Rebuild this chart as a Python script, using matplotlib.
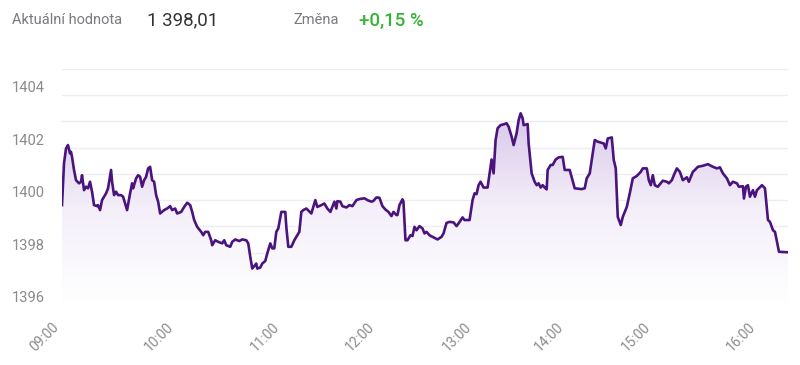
import matplotlib
matplotlib.use("Agg")
import matplotlib.pyplot as plt
import matplotlib.transforms as mtransforms
from matplotlib.colors import LinearSegmentedColormap
import numpy as np

plt.rcParams['font.family'] = ['Roboto', 'DejaVu Sans']

# header
current_label = 'Aktuální hodnota'
current_value = '1 398,01'
change_label = 'Změna'
change_value = '+0,15 %'

# sample index (uneven trading gaps, so the axis is by sample, not by clock)
idx = [0, 2, 4, 6, 8, 9, 10, 12, 14, 17, 19, 20, 22, 24, 26, 28, 30, 32, 35, 36,
       38, 40, 44, 46, 49, 50, 52, 54, 56, 59, 61, 63, 65, 68, 70, 71, 74, 76, 78, 80,
       82, 84, 86, 88, 90, 92, 94, 96, 98, 102, 105, 108, 110, 113, 115, 119, 122, 125, 128, 130,
       132, 135, 139, 141, 143, 146, 149, 150, 153, 156, 160, 162, 164, 168, 170, 173, 177, 180, 184, 186,
       188, 190, 194, 195, 198, 200, 203, 205, 208, 210, 212, 214, 216, 219, 223, 224, 226, 229, 232, 235,
       237, 239, 241, 244, 249, 253, 255, 259, 262, 265, 268, 270, 272, 274, 275, 278, 280, 284, 287, 290,
       294, 297, 302, 305, 309, 311, 314, 317, 320, 323, 326, 329, 331, 334, 335, 337, 340, 341, 343, 345,
       348, 350, 352, 354, 357, 360, 362, 364, 367, 370, 375, 379, 381, 384, 387, 391, 394, 396, 400, 402,
       407, 410, 412, 414, 416, 418, 421, 425, 428, 429, 431, 433, 435, 438, 441, 444, 446, 449, 451, 454,
       456, 458, 460, 461, 465, 466, 469, 472, 474, 476, 478, 480, 482, 484, 485, 488, 490, 493, 496, 500,
       502, 507, 512, 519, 522, 524, 527, 532, 535, 541, 543, 545, 549, 551, 553, 555, 558, 560, 564, 567,
       570, 574, 578, 580, 584, 586, 588, 590, 592, 595, 600, 604, 606, 609, 611, 614, 617, 620, 624, 626,
       630, 632, 635, 640, 645, 650, 654, 657, 660, 664, 667, 670, 674, 676, 680, 681, 683, 685, 687, 690,
       692, 694, 699, 702, 705, 707, 710, 712, 716, 725]

price = [1399.81, 1401.40, 1401.97, 1402.10, 1401.78, 1401.84, 1401.65, 1401.15, 1400.76, 1400.64,
         1400.70, 1400.95, 1400.38, 1400.51, 1400.45, 1400.70, 1400.32, 1399.81, 1399.77, 1399.81,
         1399.62, 1400.00, 1400.26, 1400.45, 1401.15, 1400.70, 1400.19, 1400.32, 1400.19, 1400.19,
         1400.13, 1399.87, 1399.62, 1400.26, 1400.64, 1400.45, 1400.83, 1400.95, 1400.89, 1400.51,
         1400.76, 1400.89, 1401.21, 1401.27, 1400.76, 1400.70, 1400.19, 1399.94, 1399.49, 1399.62,
         1399.68, 1399.77, 1399.62, 1399.68, 1399.49, 1399.55, 1399.74, 1399.90, 1399.81, 1399.55,
         1399.24, 1398.98, 1398.79, 1398.66, 1398.79, 1398.79, 1398.47, 1398.28, 1398.47, 1398.41,
         1398.35, 1398.47, 1398.28, 1398.22, 1398.41, 1398.50, 1398.44, 1398.50, 1398.47, 1398.35,
         1397.84, 1397.39, 1397.58, 1397.39, 1397.43, 1397.58, 1397.68, 1397.97, 1398.35, 1398.16,
         1398.16, 1398.79, 1398.92, 1399.55, 1399.55, 1398.98, 1398.22, 1398.22, 1398.47, 1398.66,
         1398.79, 1399.55, 1399.62, 1399.68, 1399.49, 1400.00, 1399.74, 1399.81, 1399.87, 1399.68,
         1399.55, 1399.74, 1399.94, 1399.68, 1399.96, 1399.94, 1399.77, 1399.72, 1399.81, 1399.77,
         1400.00, 1400.04, 1400.07, 1400.00, 1399.94, 1399.97, 1400.10, 1400.09, 1399.77, 1399.64,
         1399.55, 1399.39, 1399.55, 1399.43, 1399.43, 1399.81, 1400.03, 1399.94, 1398.47, 1398.47,
         1398.66, 1398.63, 1398.98, 1398.85, 1399.01, 1398.92, 1398.73, 1398.79, 1398.66, 1398.60,
         1398.50, 1398.60, 1398.73, 1399.13, 1399.17, 1399.15, 1399.01, 1399.11, 1399.34, 1399.24,
         1399.24, 1400.00, 1400.26, 1400.23, 1400.57, 1400.70, 1400.48, 1400.48, 1401.27, 1401.55,
         1401.02, 1402.29, 1402.74, 1402.86, 1402.89, 1402.93, 1402.80, 1402.42, 1402.10, 1402.55,
         1403.05, 1403.31, 1403.12, 1402.86, 1402.90, 1402.16, 1401.02, 1400.70, 1400.57, 1400.64,
         1400.48, 1400.57, 1400.48, 1400.41, 1401.15, 1401.34, 1401.34, 1401.55, 1401.63, 1401.65,
         1401.15, 1401.15, 1400.45, 1400.42, 1400.45, 1400.83, 1401.02, 1402.29, 1402.23, 1402.16,
         1401.97, 1402.35, 1402.39, 1401.53, 1401.21, 1399.36, 1399.05, 1399.36, 1399.74, 1400.26,
         1400.83, 1400.92, 1401.08, 1401.21, 1401.21, 1400.76, 1400.57, 1400.95, 1400.57, 1400.51,
         1400.74, 1400.70, 1400.64, 1400.76, 1400.95, 1401.21, 1401.08, 1400.76, 1400.87, 1400.70,
         1401.08, 1401.15, 1401.27, 1401.31, 1401.37, 1401.27, 1401.21, 1401.25, 1401.02, 1400.83,
         1400.57, 1400.70, 1400.64, 1400.51, 1400.53, 1400.06, 1400.51, 1400.57, 1400.13, 1400.38,
         1400.13, 1400.38, 1400.57, 1400.45, 1399.24, 1399.17, 1398.85, 1398.79, 1398.03, 1398.01]

tick_idx = [0, 114, 220, 315, 412, 504, 590, 695]
tick_labels = ['09:00', '10:00', '11:00', '12:00', '13:00', '14:00', '15:00', '16:00']
y_labels = [1396, 1398, 1400, 1402, 1404]

line_color = '#4a137e'
grid_color = '#ececf2'
text_gray = '#8a8a8f'

fig = plt.figure(figsize=(8, 3.65), dpi=100)
ax = fig.add_axes([62 / 800, 1 - 305 / 365, 726 / 800, 236 / 365])
ymin, ymax = 1396, 1405
ax.set_xlim(0, 725)
ax.set_ylim(ymin, ymax)

for v in range(ymin, ymax + 1):
    ax.axhline(v, color=grid_color, lw=1, zorder=0)

# gradient fill under the line
poly = ax.fill_between(idx, price, ymin, color='none', lw=0)
cmap = LinearSegmentedColormap.from_list('fade', ['#ffffff', '#f4eff9', '#d8c8ea'])
grad = np.linspace(0, 1, 256).reshape(-1, 1)
img = ax.imshow(grad, cmap=cmap, origin='lower', aspect='auto',
                extent=[0, 725, ymin, max(price)], zorder=1)
img.set_clip_path(poly.get_paths()[0], transform=ax.transData)

ax.plot(idx, price, color=line_color, lw=1.9, zorder=3, solid_joinstyle='round')

for s in ax.spines.values():
    s.set_visible(False)
ax.set_yticks([])
ax.set_xticks(tick_idx)
ax.set_xticklabels(tick_labels, rotation=45, ha='right', va='top',
                   fontsize=10, color=text_gray)
ax.tick_params(axis='x', length=0, pad=11)

# y labels sit a little above their gridline, left aligned
trans = mtransforms.blended_transform_factory(fig.transFigure, ax.transData)
trans = trans + mtransforms.ScaledTranslation(0, 7 / 100, fig.dpi_scale_trans)
for v in y_labels:
    ax.text(12 / 800, v, str(v), transform=trans, ha='left', va='center',
            fontsize=10.5, color=text_gray)

# header
hy = 1 - 20.5 / 365
fig.text(12 / 800, hy, current_label, ha='left', va='center', fontsize=10.5, color='#7a7a80')
fig.text(147 / 800, hy, current_value, ha='left', va='center', fontsize=13.5, color='#333333')
fig.text(293 / 800, hy, change_label, ha='left', va='center', fontsize=10.5, color='#7a7a80')
fig.text(359 / 800, hy, change_value, ha='left', va='center', fontsize=13.5, color='#35b535',
         fontweight='medium')

fig.savefig('out.png', dpi=100, facecolor='white')
